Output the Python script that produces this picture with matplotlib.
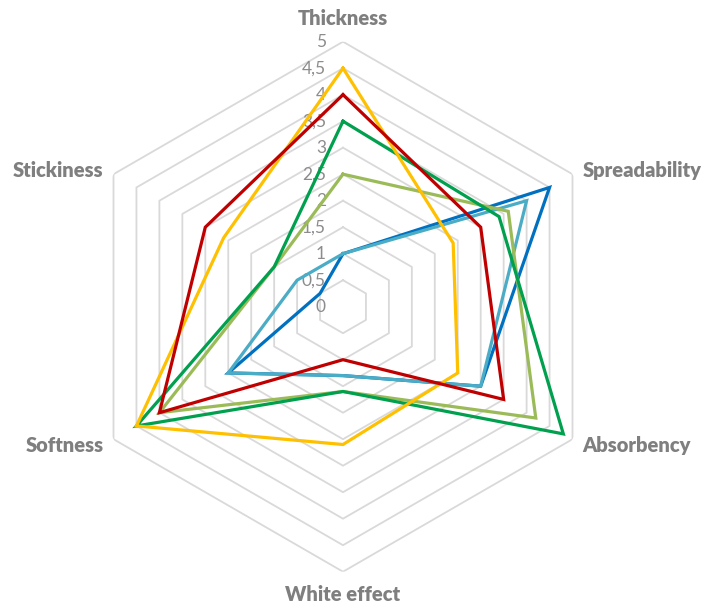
import numpy as np
import matplotlib
matplotlib.use("Agg")
import matplotlib.pyplot as plt
import matplotlib.transforms as mtransforms

categories = ['Thickness', 'Spreadability', 'Absorbency', 'White effect', 'Softness', 'Stickiness']
tick_values = [0, 0.5, 1, 1.5, 2, 2.5, 3, 3.5, 4, 4.5, 5]
tick_labels = ['0', '0,5', '1', '1,5', '2', '2,5', '3', '3,5', '4', '4,5', '5']

s_blue = [1, 4.5, 3, 1.3, 2.5, 0.5]
s_lightblue = [1, 4, 3, 1.3, 2.5, 1]
s_lightgreen = [2.5, 3.6, 4.2, 1.6, 4, 1.5]
s_green = [3.5, 3.4, 4.8, 1.6, 4.5, 1.5]
s_yellow = [4.5, 2.4, 2.5, 2.6, 4.5, 2.6]
s_red = [4, 3, 3.5, 1, 4, 3]

series = [
    (s_blue, '#0070C0'),
    (s_lightblue, '#4BACC6'),
    (s_lightgreen, '#9BBB59'),
    (s_green, '#00A04E'),
    (s_yellow, '#FFC000'),
    (s_red, '#C00000'),
]

W, H = 719, 607
fig = plt.figure(figsize=(W / 100, H / 100), dpi=100)
cx, cy, R = 343, 607 - 306.7, 265
ax = fig.add_axes([(cx - R) / W, (cy - R) / H, 2 * R / W, 2 * R / H], projection='polar')
ax.set_theta_offset(np.pi / 2)
ax.set_theta_direction(-1)
ax.set_ylim(0, 5)
ax.grid(False)
ax.spines['polar'].set_visible(False)
ax.set_xticks([])
ax.set_yticks([])
ax.patch.set_alpha(0)

n = len(categories)
angles = np.arange(n) * 2 * np.pi / n
closed = np.append(angles, angles[0])

for r in tick_values[1:]:
    ax.plot(closed, [r] * (n + 1), color='#D9D9D9', lw=1.3, zorder=1)

for vals, col in series:
    v = list(vals) + [vals[0]]
    ax.plot(closed, v, color=col, lw=2.3, zorder=3, solid_joinstyle='miter')

for r, lab in zip(tick_values, tick_labels):
    off = mtransforms.offset_copy(ax.transData, fig=fig, x=-17, y=0, units='dots')
    ax.text(0, r, lab, transform=off, ha='right', va='center', fontsize=12.5,
            color='#8C8C8C', family='Lato', zorder=2)

label_specs = [
    (0, 23, 'center', 'center'),
    (10, 4, 'left', 'center'),
    (10, -6, 'left', 'center'),
    (0, -23, 'center', 'center'),
    (-10, -6, 'right', 'center'),
    (-10, 4, 'right', 'center'),
]
for ang, lab, (dx, dy, ha, va) in zip(angles, categories, label_specs):
    off = mtransforms.offset_copy(ax.transData, fig=fig, x=dx, y=dy, units='dots')
    ax.text(ang, 5, lab, transform=off, ha=ha, va=va, fontsize=14.5,
            fontweight='heavy', color='#7F7F7F', family='Lato')

fig.savefig('out.png', dpi=100)
